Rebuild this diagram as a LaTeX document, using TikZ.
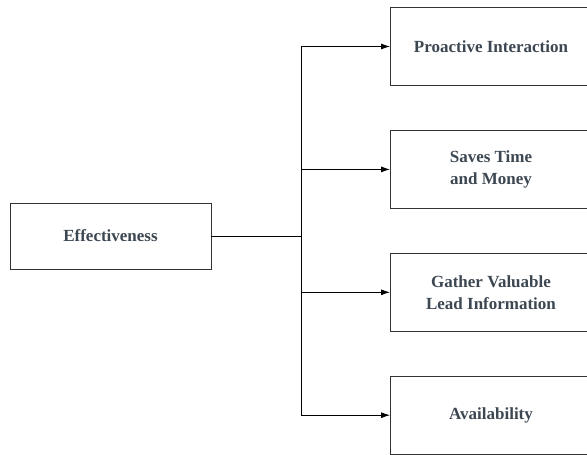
\documentclass[tikz,border=0pt]{standalone}
\usepackage{fontspec}
\setmainfont{Liberation Serif}
\usetikzlibrary{shapes.geometric, arrows.meta, positioning}
\definecolor{boxtext}{HTML}{3D4752}

\begin{document}
\begin{tikzpicture}[x=1pt, y=-1pt,
    node distance=44pt,
    block/.style={rectangle, draw=black!80, line width=0.9pt, text=boxtext,
                  font=\bfseries\fontsize{17}{22}\selectfont, align=center,
                  minimum width=201pt, minimum height=78pt, inner sep=0pt},
    link/.style={line width=0.9pt, -{Latex[length=9pt,width=6pt]}}]
\useasboundingbox (0,0) rectangle (587,455);
\node[block, minimum height=66pt] (effect) at (110.5,236) {Effectiveness};
\node[block] (proactive) at (491,46.5) {Proactive Interaction};
\node[block, below=of proactive] (saves) {Saves Time\\and Money};
\node[block, below=of saves] (gather) {Gather Valuable\\Lead Information};
\node[block, below=of gather] (avail) {Availability};

\coordinate (fork) at (301,236);
\draw[line width=0.9pt] (effect) -- (fork);
\draw[line width=0.9pt] (fork |- proactive) -- (fork |- avail);
\foreach \n in {proactive,saves,gather,avail}
    \draw[link] (fork |- \n) -- (\n);
\end{tikzpicture}
\end{document}
